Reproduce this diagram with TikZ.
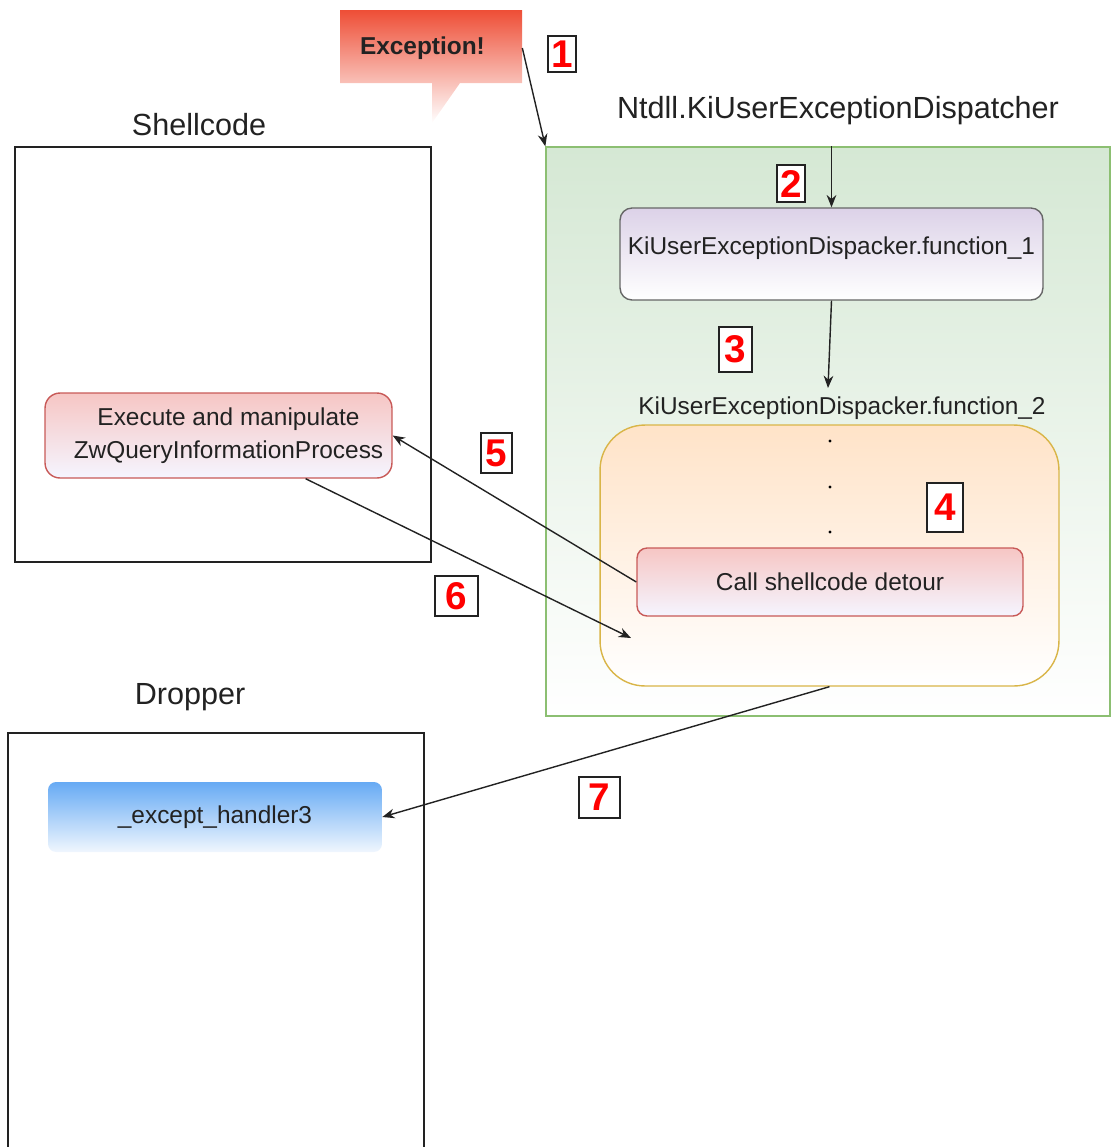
\documentclass[tikz,border=0pt]{standalone}
\usepackage{fontspec}
\setmainfont{Liberation Sans}
\usetikzlibrary{calc}
\usetikzlibrary{arrows.meta}

\definecolor{excred}{HTML}{EE4E36}
\definecolor{ntdllgreen}{HTML}{D5E8D4}
\definecolor{ntdllline}{HTML}{8CBF72}
\definecolor{lavender}{HTML}{DCD2E8}
\definecolor{peach}{HTML}{FFE3C8}
\definecolor{goldline}{HTML}{D9B548}
\definecolor{rosefill}{HTML}{F6C6C4}
\definecolor{roseline}{HTML}{C85A58}
\definecolor{skyblue}{HTML}{66AAF4}
\definecolor{inkgray}{HTML}{222222}

\begin{document}
\begin{tikzpicture}[x=0.02cm, y=-0.02cm,
  box/.style={draw=inkgray, line width=0.8pt},
  grad/.style 2 args={top color=#1, bottom color=#2},
  body/.style={font=\fontsize{13.9}{18}\selectfont, text=inkgray},
  title/.style={font=\fontsize{17.4}{20}\selectfont, text=inkgray},
  num/.style={draw=inkgray, line width=0.7pt, fill=white, text=red, inner sep=0pt,
    font=\fontsize{22}{22}\selectfont\bfseries},
  arr/.style={-{Stealth[length=7pt,width=5.5pt]}, line width=0.8pt, draw=inkgray}]
\useasboundingbox (0,0) rectangle (1110,1147);

% containers
\node[draw=ntdllline, line width=0.8pt, grad={ntdllgreen}{white}, minimum width=11.28cm, minimum height=11.38cm] (ntdll) at (828,431.5) {};
\node[box, minimum width=8.32cm, minimum height=8.3cm] (shell) at (223,354.5) {};
\node[box, minimum width=8.32cm, minimum height=8.6cm] (dropper) at (216,948) {};

\node[title] (ntdlltitle) at (838,111) {Ntdll.KiUserExceptionDispatcher};
\node[title] (shelltitle) at (199,125) {Shellcode};
\node[title] (droptitle) at (190,697) {Dropper};

% the exception bubble
\shade[top color=excred, bottom color=white] (340,10) -- (522,10) -- (522,83) -- (460,83)
  -- (432,123) -- (432,83) -- (340,83) -- cycle;
\node[inner xsep=0.4cm, text width=2.84cm, align=left, minimum height=1.46cm,
  font=\fontsize{13.9}{16}\selectfont\bfseries, text=inkgray] (exc) at (431,48) {Exception!};

% dispatcher functions
\node[draw=black!60, line width=0.8pt, rounded corners=0.24cm, grad={lavender}{white}, body,
  minimum width=8.46cm, minimum height=1.84cm] (func1) at (831.5,254)
  {\raisebox{0.32cm}{KiUserExceptionDispacker.function\_1}};
\node[body] (func2title) at (842,408) {KiUserExceptionDispacker.function\_2};
\node[draw=goldline, line width=0.8pt, rounded corners=0.9cm, grad={peach}{white},
  minimum width=9.18cm, minimum height=5.22cm] (func2) at (829.5,555.5) {};

\foreach \y in {441,487,532}
  \fill[black] (830,\y) circle (1.6);

\node[draw=roseline, line width=0.8pt, rounded corners=0.2cm, grad={rosefill}{white!96!blue}, body,
  minimum width=7.72cm, minimum height=1.36cm] (detour) at (830,582)
  {\raisebox{-0.08cm}{Call shellcode detour}};
\node[draw=roseline, line width=0.8pt, rounded corners=0.3cm, grad={rosefill}{white!96!blue},
  font=\fontsize{13.9}{19}\selectfont, text=inkgray,
  align=center, minimum width=6.94cm, minimum height=1.7cm] (exec) at (218.5,435.5)
  {\hspace*{0.4cm}Execute and manipulate\\ \hspace*{0.4cm}ZwQueryInformationProcess};
\node[rounded corners=0.16cm, grad={skyblue}{white!90!skyblue}, body,
  minimum width=6.68cm, minimum height=1.4cm] (handler) at (215,817)
  {\raisebox{-0.06cm}{\_except\_handler3}};

% step numbers
\node[num, minimum width=0.56cm, minimum height=0.72cm] (n1) at (562,54) {1};
\node[num, minimum width=0.56cm, minimum height=0.74cm] (n2) at (791,183.5) {2};
\node[num, minimum width=0.66cm, minimum height=0.9cm] (n3) at (735.5,349.5) {3};
\node[num, minimum width=0.72cm, minimum height=0.98cm] (n4) at (945,507.5) {4};
\node[num, minimum width=0.62cm, minimum height=0.8cm] (n5) at (496.5,453) {5};
\node[num, minimum width=0.86cm, minimum height=0.8cm] (n6) at (456.5,596) {6};
\node[num, minimum width=0.82cm, minimum height=0.82cm] (n7) at (599.5,797.5) {7};

% flow
\coordinate (f2in) at (828,388);
\coordinate (ret) at (631,638);
\draw[arr] (exc.east) -- (ntdll.north west);
\draw[arr] (func1.north |- ntdll.north) -- (func1.north);
\draw[arr] (func1.south) -- (f2in);
\draw[arr] (detour.west) -- (exec.east);
\draw[arr] ($(exec.south east)!0.25!(exec.south west)$) -- (ret);
\draw[arr] (func2.south) -- (handler.east);
\end{tikzpicture}
\end{document}
